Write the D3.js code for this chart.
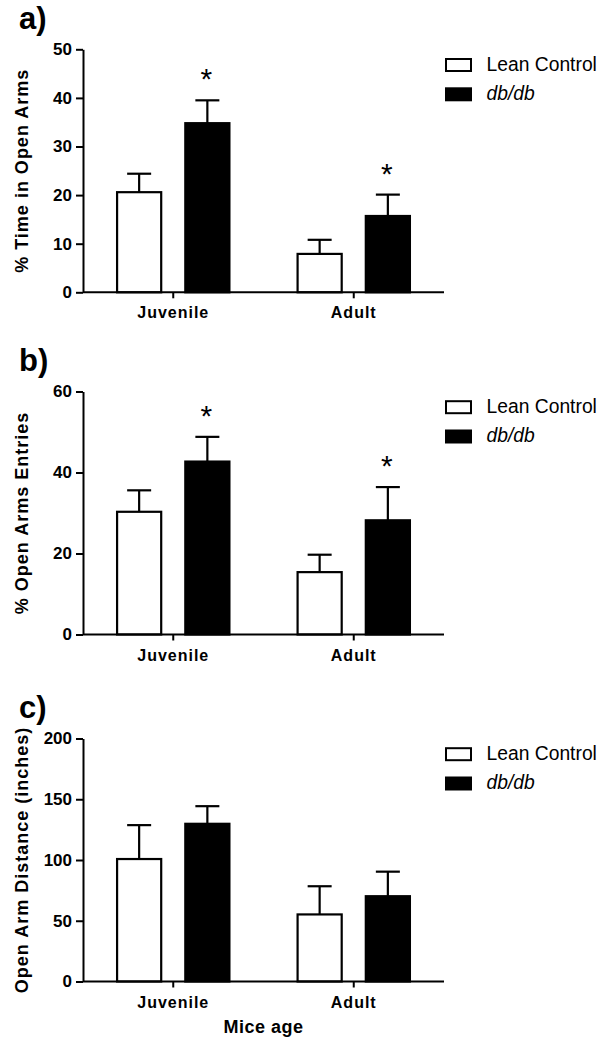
<!DOCTYPE html>
<html>
<head>
<meta charset="utf-8">
<script src="https://cdn.jsdelivr.net/npm/d3@7"></script>
<style>
  html, body { margin: 0; padding: 0; background: #fff; }
  svg { display: block; font-family: "Liberation Sans", Arial, Helvetica, sans-serif; }
</style>
</head>
<body>
<svg id="chart" width="602" height="1050"></svg>
<script>
// ---- data ----
const groups = ["Juvenile", "Adult"];
const seriesNames = ["Lean Control", "db/db"];

const panelLetters = ["a)", "b)", "c)"];
const yTitles = ["% Time in Open Arms", "% Open Arms Entries", "Open Arm Distance (inches)"];
const yMax = [50, 60, 200];
const yTicksA = [0, 10, 20, 30, 40, 50];
const yTicksB = [0, 20, 40, 60];
const yTicksC = [0, 50, 100, 150, 200];

// panel a: % time in open arms
const leanA = [20.6, 7.9];
const leanSemA = [3.8, 2.9];
const dbA = [34.8, 15.7];
const dbSemA = [4.7, 4.4];
const sigA = [true, true];

// panel b: % open arms entries
const leanB = [30.3, 15.4];
const leanSemB = [5.3, 4.3];
const dbB = [42.7, 28.2];
const dbSemB = [6.1, 8.2];
const sigB = [true, true];

// panel c: open arm distance
const leanC = [100.8, 55.2];
const leanSemC = [27.9, 23.2];
const dbC = [129.8, 70.2];
const dbSemC = [14.5, 20.2];
const sigC = [false, false];

const xTitle = "Mice age";

// ---- layout ----
const svg = d3.select("#chart");
const axisLeftX = 83, axisRightX = 444;
const panelTops = [49.3, 391.5, 738.5];
const panelHeight = 243;

const panels = [
  {lean: leanA, leanSem: leanSemA, db: dbA, dbSem: dbSemA, sig: sigA, ticks: yTicksA},
  {lean: leanB, leanSem: leanSemB, db: dbB, dbSem: dbSemB, sig: sigB, ticks: yTicksB},
  {lean: leanC, leanSem: leanSemC, db: dbC, dbSem: dbSemC, sig: sigC, ticks: yTicksC}
];

const x0 = d3.scaleBand().domain(groups).range([axisLeftX, axisRightX]).padding(0);
const x1 = d3.scaleBand().domain(seriesNames).range([0, x0.bandwidth()])
  .paddingInner(0.324).paddingOuter(0.485);
const fills = ["#ffffff", "#000000"];

panels.forEach((p, i) => {
  const top = panelTops[i];
  const bottom = top + panelHeight;
  const y = d3.scaleLinear().domain([0, yMax[i]]).range([bottom, top]);
  const g = svg.append("g");

  // panel letter
  g.append("text").attr("x", 19).attr("y", top - 20.5)
    .attr("font-size", 31).attr("font-weight", "bold").attr("fill", "#000")
    .text(panelLetters[i]);

  // bars
  groups.forEach((grp, gi) => {
    const vals = [p.lean[gi], p.db[gi]];
    const sems = [p.leanSem[gi], p.dbSem[gi]];
    seriesNames.forEach((s, si) => {
      const bx = x0(grp) + x1(s);
      const bw = x1.bandwidth();
      const cx = bx + bw / 2;
      // error bar (upward only)
      const yTop = y(vals[si] + sems[si]);
      g.append("line").attr("x1", cx).attr("x2", cx)
        .attr("y1", y(vals[si])).attr("y2", yTop)
        .attr("stroke", "#000").attr("stroke-width", 2.2);
      g.append("line").attr("x1", cx - 12).attr("x2", cx + 12)
        .attr("y1", yTop).attr("y2", yTop)
        .attr("stroke", "#000").attr("stroke-width", 2.2);
      g.append("rect")
        .attr("x", bx + 1).attr("y", y(vals[si]))
        .attr("width", bw - 2).attr("height", y(0) - y(vals[si]))
        .attr("fill", fills[si]).attr("stroke", "#000").attr("stroke-width", 2.2);
      if (si === 1 && p.sig[gi]) {
        g.append("text").attr("x", cx - 1).attr("y", yTop - 28 + 17)
          .attr("text-anchor", "middle").attr("font-size", 30).attr("fill", "#000")
          .text("*");
      }
    });
  });

  // y axis
  const yAxis = g.append("g").attr("transform", `translate(${axisLeftX},0)`)
    .call(d3.axisLeft(y).tickValues(p.ticks).tickSize(7).tickSizeOuter(0).tickFormat(d3.format("d")));
  yAxis.select(".domain").attr("stroke", "#000").attr("stroke-width", 2);
  yAxis.selectAll(".tick line").attr("stroke", "#000").attr("stroke-width", 2);
  yAxis.selectAll(".tick text").attr("x", -11).attr("font-size", 17)
    .attr("font-weight", "bold").attr("fill", "#000").attr("font-family", "Liberation Sans, Arial, sans-serif");

  // x axis
  const xAxis = g.append("g").attr("transform", `translate(0,${bottom})`)
    .call(d3.axisBottom(x0).tickSize(6).tickSizeOuter(0));
  xAxis.select(".domain").attr("stroke", "#000").attr("stroke-width", 2)
    .attr("d", `M${axisLeftX},0H${axisRightX}`);
  xAxis.selectAll(".tick line").attr("stroke", "#000").attr("stroke-width", 2);
  xAxis.selectAll(".tick text").attr("y", 26).attr("dy", null).attr("font-size", 16)
    .attr("font-weight", "bold").attr("letter-spacing", 1).attr("fill", "#000")
    .attr("font-family", "Liberation Sans, Arial, sans-serif");

  // y title
  g.append("text")
    .attr("transform", `translate(28,${(top + bottom) / 2}) rotate(-90)`)
    .attr("text-anchor", "middle").attr("font-size", 18).attr("font-weight", "bold")
    .attr("letter-spacing", 1).attr("fill", "#000")
    .text(yTitles[i]);

  // legend
  const lg = g.append("g").attr("transform", `translate(446,${top + 9.7})`);
  seriesNames.forEach((s, si) => {
    lg.append("rect").attr("x", 0).attr("y", si * 29.3).attr("width", 25).attr("height", 12)
      .attr("fill", fills[si]).attr("stroke", "#000").attr("stroke-width", 2);
    lg.append("text").attr("x", 40.5).attr("y", si * 29.3 + 12)
      .attr("font-size", 19.3).attr("fill", "#000")
      .attr("font-style", si === 1 ? "italic" : "normal")
      .text(s);
  });
});

// x title
svg.append("text").attr("x", (axisLeftX + axisRightX) / 2).attr("y", 1033)
  .attr("text-anchor", "middle").attr("font-size", 18).attr("font-weight", "bold")
  .attr("letter-spacing", 0.5).attr("fill", "#000").text(xTitle);
</script>
</body>
</html>
